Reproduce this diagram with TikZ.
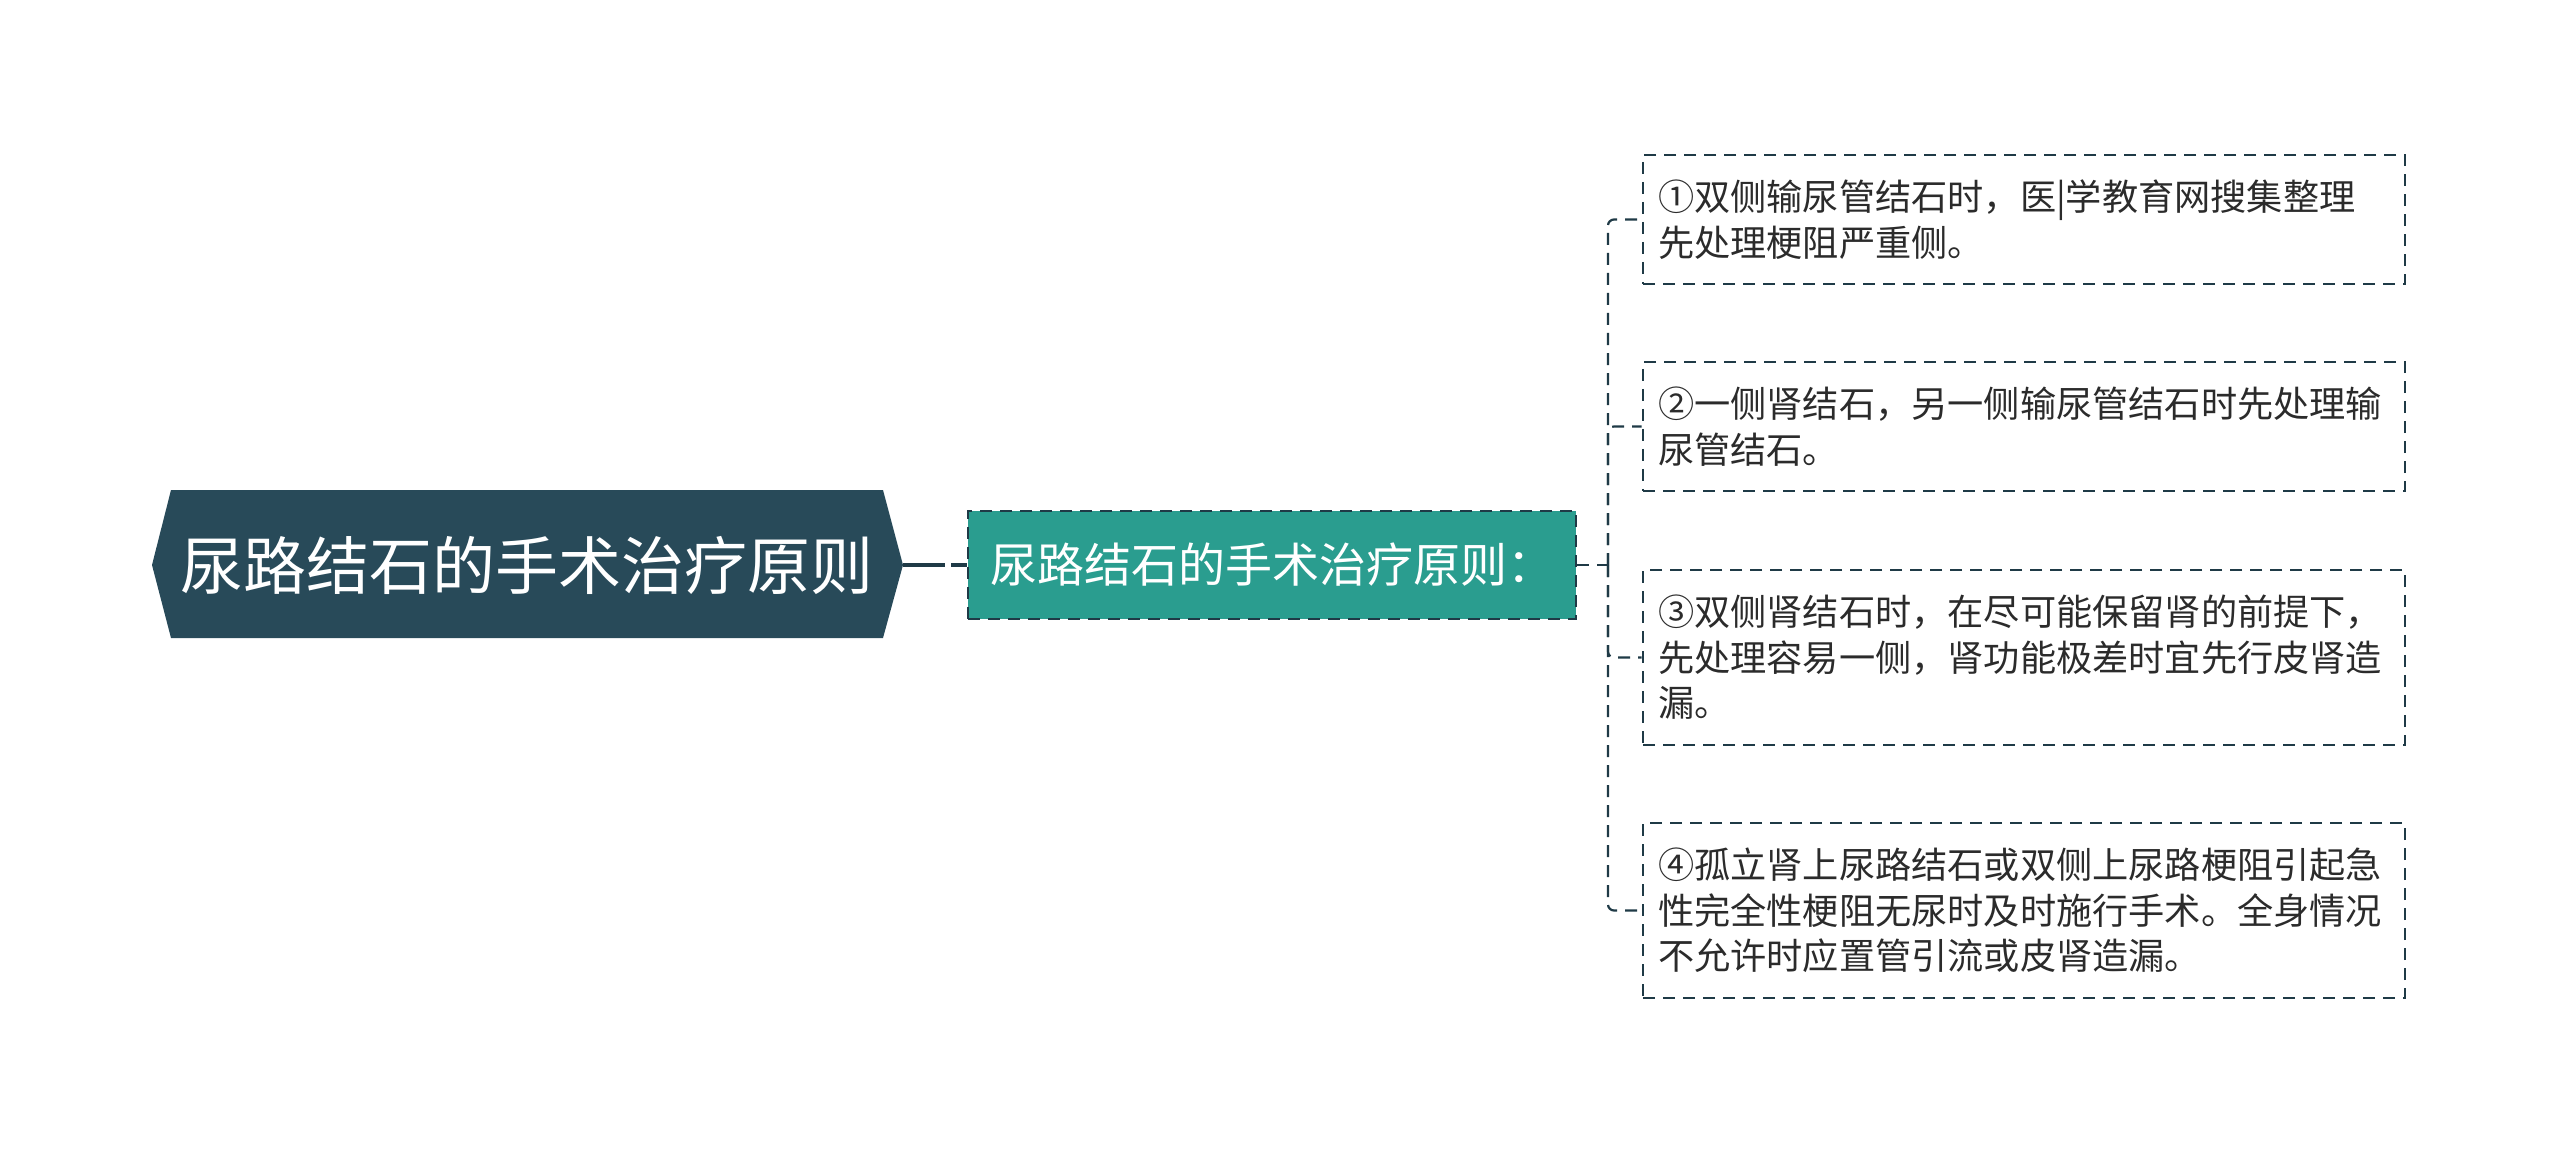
\documentclass[tikz,border=0pt]{standalone}
\usepackage{xcolor}
\usepackage{fontspec}
\usepackage{tikz}
\setmainfont{Noto Sans CJK SC}
\definecolor{rootfill}{HTML}{284A59}
\definecolor{midfill}{HTML}{2A9D8F}
\definecolor{edge}{HTML}{1F3A46}
\definecolor{leaftext}{HTML}{2B2B2B}

\tikzset{
  midbox/.style={draw=edge, fill=midfill, line width=1.3pt, dash pattern=on 6pt off 4pt,
    minimum width=304pt, minimum height=54pt, text=white, inner sep=0pt,
    font=\fontsize{23.5}{28}\selectfont},
  leafbox/.style={draw=edge, line width=1.3pt, dash pattern=on 6pt off 4pt,
    text width=366pt, inner xsep=7.5pt, inner ysep=0pt, align=left, text=leaftext,
    font=\fontsize{18.1}{22.8}\selectfont},
  link/.style={draw=edge, line width=1.1pt, dash pattern=on 6pt off 4pt, rounded corners=3pt},
}

\begin{document}
\begin{tikzpicture}[x=0.5pt, y=-0.5pt]
             \useasboundingbox (0,0) rectangle (2560,1155);

             \fill[rootfill] (152,565) -- (171,490) -- (883,490) -- (903,565)
                 -- (883,638) -- (171,638) -- cycle;
             \node[draw=none, text=white, font=\fontsize{31.5}{38}\selectfont] (root) at (527,565) {尿路结石的手术治疗原则};
             \coordinate (rootE) at (903,565);

             \node[midbox] (mid) at (1272,565) {尿路结石的手术治疗原则：};
             \draw[edge, line width=2.2pt, dash pattern=on 21pt off 3pt] (rootE) -- (mid.west);

             \node[leafbox, minimum height=64.5pt] (leafA) at (2024,219.5) {①双侧输尿管结石时，医|学教育网搜集整理\\先处理梗阻严重侧。};
             \node[leafbox, minimum height=64.5pt] (leafB) at (2024,426.5) {②一侧肾结石，另一侧输尿管结石时先处理输\\尿管结石。};
             \node[leafbox, minimum height=87.5pt] (leafC) at (2024,657.5) {③双侧肾结石时，在尽可能保留肾的前提下，\\先处理容易一侧，肾功能极差时宜先行皮肾造\\漏。};
             \node[leafbox, minimum height=87.5pt] (leafD) at (2024,910.5) {④孤立肾上尿路结石或双侧上尿路梗阻引起急\\性完全性梗阻无尿时及时施行手术。全身情况\\不允许时应置管引流或皮肾造漏。};

             \coordinate (trunk) at (1608,565);
             \draw[link] (mid.east) -- (trunk);
             \foreach \leaf in {leafA,leafB,leafC,leafD}
                 \draw[link] (trunk) |- (\leaf.west);
             \end{tikzpicture}
\end{document}
